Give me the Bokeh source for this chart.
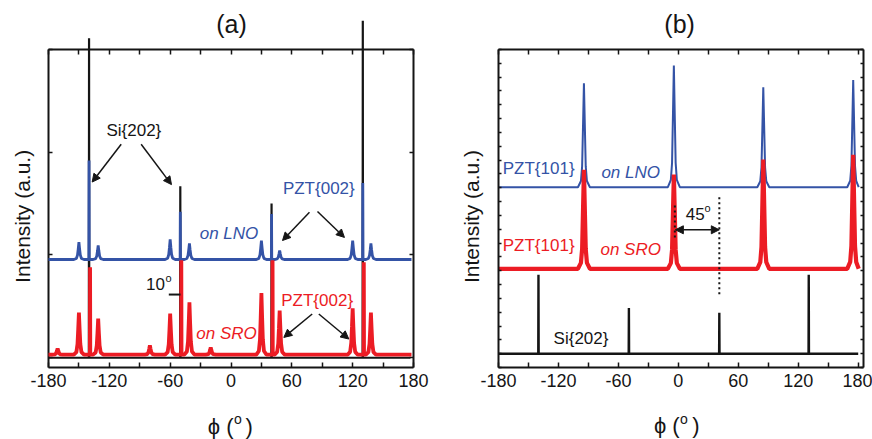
from bokeh.plotting import figure
from bokeh.layouts import row
from bokeh.models import Range1d, LinearAxis, FixedTicker, Label, Arrow, NormalHead
from bokeh.core.properties import value
from bokeh.embed import file_html
from bokeh.resources import INLINE
import math

FONT = "Liberation Sans"
BLUE = "#3453a6"
RED = "#ec1c24"
BLACK = "#151515"

# ---------------- data, panel (a): PZT{002} phi scans ----------------
a_si_phi = [-140, -50, 40, 130]
a_si_black = [3.11, 1.67, 1.50, 3.28]
a_si_blue = [1.92, 1.42, 1.40, 1.70]
a_si_red_phi = [-139, -49, 41, 131]
a_si_red = [0.88, 0.95, 0.95, 0.93]
a_pzt_phi = [-150, -131, -60, -41, 30, 48, 120, 138]
a_pzt_blue = [1.125, 1.093, 1.151, 1.112, 1.141, 1.044, 1.141, 1.112]
a_pzt_red = [0.44, 0.38, 0.43, 0.54, 0.63, 0.46, 0.48, 0.44]
a_red_minor_phi = [-171, -80, -20]
a_red_minor = [0.09, 0.12, 0.10]
a_base_black, a_base_blue, a_base_red = 0.0, 0.956, 0.03

# ---------------- data, panel (b): PZT{101} phi scans ----------------
b_pzt_phi = [-94.5, -4.5, 85, 175]
b_pzt_blue = [20.56, 21.84, 20.27, 20.8]
b_pzt_red = [14.3, 13.96, 15.04, 15.38]
b_si_phi = [-140, -49.5, 41, 130.5]
b_si_black = [6.70, 4.31, 3.96, 6.70]
b_base_black, b_base_blue, b_base_red = 0.99, 13.04, 7.14

x_major = [-180, -120, -60, 0, 60, 120, 180]
x_minor = [-150, -90, -30, 30, 90, 150]
x_labels = ["-180", "-120", "-60", "0", "60", "120", "180"]

# peak line shapes (offset in degrees, fraction of peak height)
PZT_A_DX = [-5, -2.5, -1.4, -0.7, 0, 0.7, 1.4, 2.5, 5]
PZT_A_FR = [0, 0.06, 0.25, 0.6, 1, 0.6, 0.25, 0.06, 0]
PZT_B_DX = [-6, -3, -1.8, -1, 0, 1, 1.8, 3, 6]
PZT_B_FR = [0, 0.06, 0.2, 0.55, 1, 0.55, 0.2, 0.06, 0]
SI_DX = [-0.2, 0, 0.2]
SI_FR = [0, 1, 0]


def trace(x0, x1, base, groups):
    pts = [(x0, base), (x1, base)]
    for centers, tops, dx, fr in groups:
        for c, t in zip(centers, tops):
            for d, f in zip(dx, fr):
                pts.append((c + d, base + f * (t - base)))
    pts = sorted(p for p in pts if x0 <= p[0] <= x1)
    return [p[0] for p in pts], [p[1] for p in pts]


def style_axis(ax, labels, tick_len):
    ax.axis_line_width = 2
    ax.axis_line_color = BLACK
    ax.major_tick_in = tick_len
    ax.major_tick_out = 0
    ax.minor_tick_in = tick_len
    ax.minor_tick_out = 0
    ax.major_tick_line_width = 1.5
    ax.minor_tick_line_width = 1.5
    ax.major_tick_line_color = BLACK
    ax.minor_tick_line_color = BLACK
    if labels:
        ax.major_label_text_font = FONT
        ax.major_label_text_font_size = "18px"
        ax.major_label_text_color = BLACK
        ax.major_label_standoff = 6
        ax.major_label_overrides = {v: s for v, s in zip(x_major, x_labels)}
    else:
        ax.major_label_text_font_size = "1px"
        ax.major_label_text_color = None
        ax.major_label_standoff = 0


def make_fig(width, left, right, xr, yr, yticks, ytick_len):
    p = figure(width=width, height=439, x_range=Range1d(*xr), y_range=Range1d(*yr),
               output_backend="svg", toolbar_location=None,
               min_border_left=left, min_border_right=right,
               min_border_top=49, min_border_bottom=72,
               x_axis_type=None, y_axis_type=None)
    p.outline_line_color = None
    p.background_fill_color = "white"
    p.border_fill_color = "white"
    xt = FixedTicker(ticks=x_major, minor_ticks=x_minor)
    yt = FixedTicker(ticks=yticks, minor_ticks=[])
    for loc in ["below", "above"]:
        ax = LinearAxis(ticker=xt)
        style_axis(ax, loc == "below", 5)
        p.add_layout(ax, loc)
    for loc in ["left", "right"]:
        ax = LinearAxis(ticker=yt)
        style_axis(ax, False, ytick_len)
        p.add_layout(ax, loc)
    return p


def label(p, x, y, text, color=BLACK, size="17px", style="normal", align="center"):
    p.add_layout(Label(x=x, y=y, text=text, text_font=FONT, text_font_size=size,
                       text_color=color, text_font_style=style, text_align=align,
                       text_baseline="middle", level="overlay"))


def outer_text(p, x, y, text, size, align="center", angle=0):
    # text glyph at overlay level so it may sit outside the frame
    p.text(x=[x], y=[y], text=[text], text_font=value(FONT), text_font_size=value(size),
           text_color=BLACK, text_align=align, text_baseline="middle", angle=angle,
           level="overlay")


def arrow(p, x0, y0, x1, y1, both=False):
    head = lambda: NormalHead(size=8, fill_color=BLACK, line_color=BLACK, line_width=1)
    p.add_layout(Arrow(x_start=x0, y_start=y0, x_end=x1, y_end=y1, end=head(),
                       start=head() if both else None, line_color=BLACK,
                       line_width=1.5, level="overlay"))


# ---------------- panel (a) ----------------
pa = make_fig(456, 48, 43, (-180, 180), (-0.095, 3.0), [0, 1, 2, 3], 4)

xk, yk = trace(-180, 177, a_base_black, [(a_si_phi, a_si_black, SI_DX, SI_FR)])
pa.line(xk, yk, line_color=BLACK, line_width=2.2, level="overlay")
xb, yb = trace(-180, 178, a_base_blue, [(a_si_phi, a_si_blue, SI_DX, SI_FR),
                                        (a_pzt_phi, a_pzt_blue, PZT_A_DX, PZT_A_FR)])
pa.line(xb, yb, line_color=BLUE, line_width=2.8, level="overlay")
xr_, yr_ = trace(-180, 178, a_base_red, [(a_si_red_phi, a_si_red, SI_DX, SI_FR),
                                         (a_pzt_phi, a_pzt_red, PZT_A_DX, PZT_A_FR),
                                         (a_red_minor_phi, a_red_minor, PZT_A_DX, PZT_A_FR)])
pa.line(xr_, yr_, line_color=RED, line_width=3.8, level="overlay")

pa.line([-61.35, -49.8], [0.615, 0.615], line_color=BLACK, line_width=2, level="overlay")

outer_text(pa, 0.5, 3.244, "(a)", "25px")
label(pa, -95.8, 2.215, "Si{202}")
arrow(pa, -108.3, 2.078, -136.9, 1.710)
arrow(pa, -88.6, 2.078, -58.7, 1.685)
label(pa, 86.6, 1.646, "PZT{002}", color=BLUE)
arrow(pa, 77.4, 1.415, 50.8, 1.141)
arrow(pa, 85.3, 1.424, 111.9, 1.171)
label(pa, -2.0, 1.21, "on LNO", color=BLUE, style="italic")
label(pa, -74.5, 0.722, "10")
label(pa, -61.6, 0.78, "o", size="11px")
label(pa, 85.0, 0.556, "PZT{002}", color=RED)
arrow(pa, 80.1, 0.426, 52.1, 0.198)
arrow(pa, 86.6, 0.426, 116.2, 0.182)
label(pa, -4.4, 0.237, "on SRO", color=RED, style="italic")
outer_text(pa, -205.9, 1.376, "Intensity (a.u.)", "21px", angle=math.pi / 2)
outer_text(pa, 2.47, -0.668, "\u03d5 (", "22px", align="right")
outer_text(pa, 2.9, -0.595, "o", "14px", align="left")
outer_text(pa, 14.3, -0.668, ")", "22px", align="left")

# ---------------- panel (b) ----------------
pb = make_fig(416, 42, 9, (-180, 185.3), (0, 23), list(range(0, 24)), 3)

xk, yk = trace(-180, 180, b_base_black, [(b_si_phi, b_si_black, SI_DX, SI_FR)])
pb.line(xk, yk, line_color=BLACK, line_width=2.4)
xb, yb = trace(-180, 180.5, b_base_blue, [(b_pzt_phi, b_pzt_blue, PZT_B_DX, PZT_B_FR)])
pb.line(xb, yb, line_color=BLUE, line_width=2)
xr_, yr_ = trace(-180, 180.5, b_base_red, [(b_pzt_phi, b_pzt_red, PZT_B_DX, PZT_B_FR)])
pb.line(xr_, yr_, line_color=RED, line_width=4.2)

pb.line([41, 41], [12.31, 5.08], line_color=BLACK, line_width=2, line_dash="2 3")
pb.line([-3.5, -3.5], [11.71, 9.18], line_color=BLACK, line_width=2, line_dash="2 3")
arrow(pb, -3.0, 9.96, 41, 9.96, both=True)

outer_text(pb, 1.3, 24.87, "(b)", "25px")
label(pb, -139.8, 14.39, "PZT{101}", color=BLUE)
label(pb, -47.7, 14.10, "on LNO", color=BLUE, style="italic")
label(pb, -139.8, 8.82, "PZT{101}", color=RED)
label(pb, -47.7, 8.53, "on SRO", color=RED, style="italic")
label(pb, -97.4, 2.10, "Si{202}")
label(pb, 16.8, 11.13, "45")
label(pb, 29.3, 11.57, "o", size="11px")
outer_text(pb, -206.7, 10.92, "Intensity (a.u.)", "21px", angle=math.pi / 2)
outer_text(pb, 1.3, -4.23, "\u03d5 (", "22px", align="right")
outer_text(pb, 1.7, -3.69, "o", "14px", align="left")
outer_text(pb, 13.8, -4.23, ")", "22px", align="left")

layout = row(pa, pb)
open("out.html", "w").write(file_html(layout, INLINE))
